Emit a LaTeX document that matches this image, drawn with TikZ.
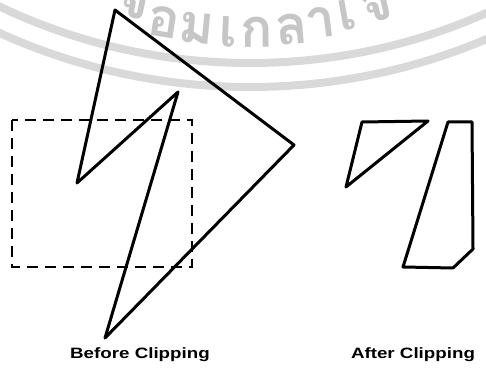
\documentclass[tikz,border=0pt]{standalone}
\usepackage{fontspec}
\setmainfont{Liberation Sans}
\newfontfamily\thaifont[Script=Thai]{Loma}
\begin{document}
\begin{tikzpicture}[x=1pt,y=1pt,
  poly/.style={line width=3pt,line join=round,line cap=round},
  cliprect/.style={line width=2.8pt,dash pattern=on 11pt off 7pt},
  band/.style={line width=8pt,draw=gray!30},
  wm/.style={text=gray!45,font=\thaifont\bfseries\fontsize{54}{54}\selectfont,inner sep=0pt},
  lbl/.style={font=\bfseries\fontsize{15}{17}\selectfont,inner sep=0pt}]
\useasboundingbox (0,0) rectangle (486,369);
\begin{scope}
\clip (0,0) rectangle (486,369);
% watermark
\coordinate (wc) at (250,888);
\draw[band] (wc) circle[radius=582];
\draw[band] (wc) circle[radius=606];
\node[wm,rotate=-11.7] (w1) at (134,366) {จ};
\node[wm,rotate=-8.9] (w2) at (164,347) {อ};
\node[wm,rotate=-5.5] (w3) at (197,341) {ม};
\node[wm,rotate=-2.4] (w4) at (228,337) {เ};
\node[wm,rotate=0.5] (w5) at (257,337) {ก};
\node[wm,rotate=4.4] (w6) at (292,340) {ล};
\node[wm,rotate=7.3] (w7) at (321,346) {า};
\node[wm,rotate=10] (w8) at (347,354) {เ};
\node[wm,rotate=13] (w9) at (377,363) {จ};
\end{scope}
% before clipping
\coordinate (A) at (115,359);
\coordinate (B) at (294,224);
\coordinate (C) at (105,31);
\coordinate (D) at (178,277);
\coordinate (E) at (77,186);
\draw[poly] (A) -- (B) -- (C) -- (D) -- (E) -- cycle;
\coordinate (R1) at (12,249);
\coordinate (R2) at (192,102);
\draw[cliprect] (R1) rectangle (R2);
% after clipping
\coordinate (T1) at (362,247);
\coordinate (T2) at (428,248);
\coordinate (T3) at (346,182);
\draw[poly] (T1) -- (T2) -- (T3) -- cycle;
\coordinate (Q1) at (448,247);
\coordinate (Q2) at (472,247);
\coordinate (Q3) at (473,120);
\coordinate (Q4) at (453,101);
\coordinate (Q5) at (403,102);
\draw[poly] (Q1) -- (Q2) -- (Q3) -- (Q4) -- (Q5) -- cycle;
% labels
\node[lbl] (before) at (140,14) {\scalebox{1.25}[1]{Before Clipping}};
\node[lbl] (after) at (413,14) {\scalebox{1.25}[1]{After Clipping}};
\end{tikzpicture}
\end{document}
